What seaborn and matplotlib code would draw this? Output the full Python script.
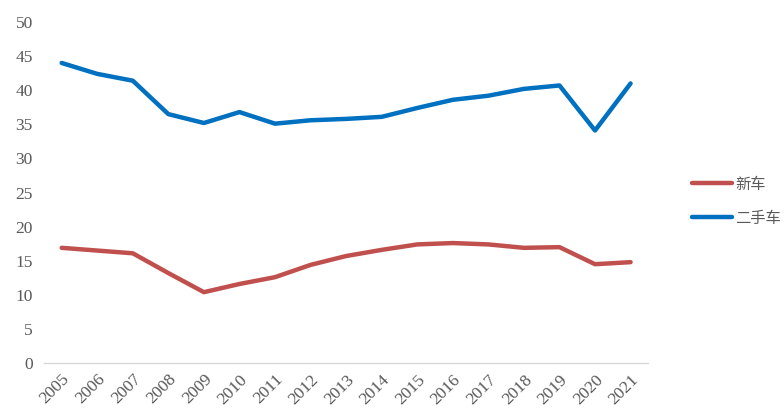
import numpy as np
import pandas as pd
import matplotlib
matplotlib.use('Agg')
import matplotlib.pyplot as plt
import seaborn as sns

# values
years = list(range(2005, 2022))
new_car = [16.9, 16.5, 16.1, 13.2, 10.4, 11.6, 12.6, 14.4, 15.7, 16.6,
           17.4, 17.6, 17.4, 16.9, 17.0, 14.5, 14.8]
used_car = [44.0, 42.4, 41.4, 36.5, 35.2, 36.8, 35.1, 35.6, 35.8, 36.1,
            37.4, 38.6, 39.2, 40.2, 40.7, 34.1, 41.0]
series_names = ['新车', '二手车']
colors = ['#C0504D', '#0070C0']

df = pd.DataFrame({
    'year': years * 2,
    'value': new_car + used_car,
    'series': [series_names[0]] * len(years) + [series_names[1]] * len(years),
})

sns.set_style('white')
plt.rcParams['font.family'] = ['Noto Sans CJK SC', 'DejaVu Sans']

fig = plt.figure(figsize=(7.84, 4.08), dpi=100)
ax = fig.add_axes([0.056, 0.110, 0.771, 0.836])

sns.lineplot(data=df, x='year', y='value', hue='series', palette=colors,
             hue_order=series_names, linewidth=3.2, ax=ax)

ax.set_xlim(2004.5, 2021.5)
ax.set_ylim(0, 50)
ax.set_yticks(np.arange(0, 51, 5))
ax.set_xticks(years)
ax.set_xticks(np.arange(2004.5, 2022, 1), minor=True)
ax.tick_params(axis='x', which='major', length=0, pad=6)
ax.tick_params(axis='x', which='minor', length=5, color='#D9D9D9', width=1)
ax.tick_params(axis='y', length=0, pad=8)
ax.set_xticklabels([str(y) for y in years], rotation=45, ha='right',
                   rotation_mode='anchor', family='Liberation Serif',
                   fontsize=12.5, color='#595959')
for t in ax.get_yticklabels():
    t.set_family('Liberation Serif')
    t.set_fontsize(12.5)
    t.set_color('#595959')
ax.set_xlabel('')
ax.set_ylabel('')

for side in ['top', 'right', 'left']:
    ax.spines[side].set_visible(False)
ax.spines['bottom'].set_color('#D9D9D9')
ax.spines['bottom'].set_linewidth(1)

leg = ax.legend(loc='center left', bbox_to_anchor=(1.057, 0.475), frameon=False,
                fontsize=11, handlelength=2.6, handletextpad=0.25,
                labelspacing=1.1, borderaxespad=0.2)
for t in leg.get_texts():
    t.set_color('#595959')
for line in leg.get_lines():
    line.set_linewidth(3.2)

fig.savefig('out.png', dpi=100)
